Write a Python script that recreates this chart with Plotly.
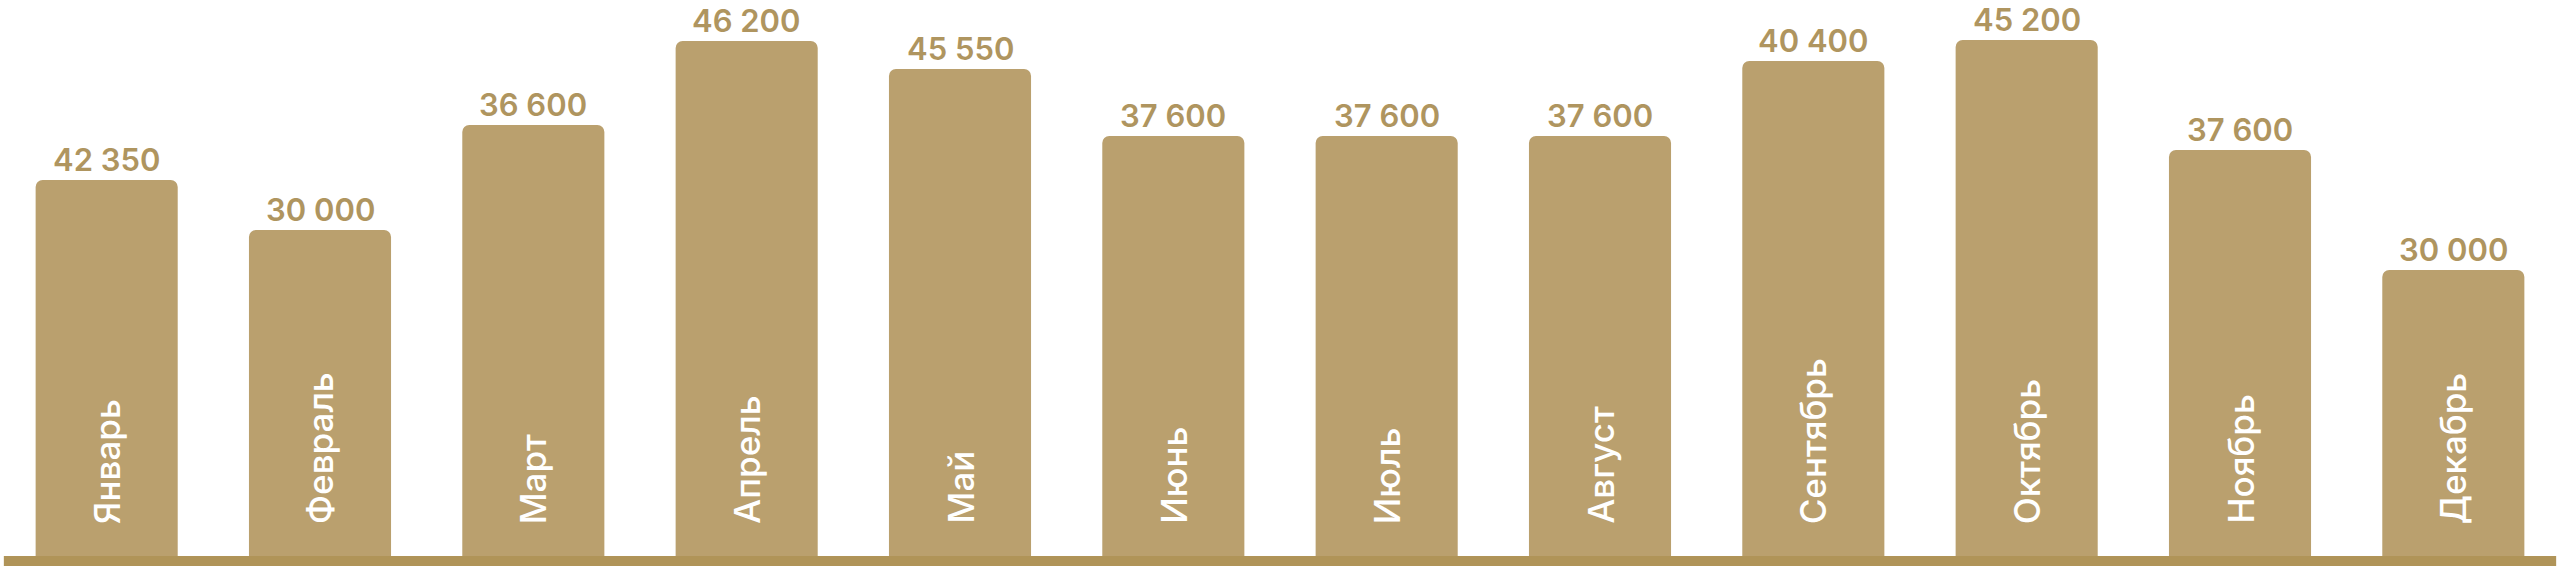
import plotly.graph_objects as go

# months, the printed totals, and the bar heights as drawn in the picture
months = ['Январь', 'Февраль', 'Март', 'Апрель', 'Май', 'Июнь',
          'Июль', 'Август', 'Сентябрь', 'Октябрь', 'Ноябрь', 'Декабрь']
values = [42350, 30000, 36600, 46200, 45550, 37600,
          37600, 37600, 40400, 45200, 37600, 30000]
bar_heights = [376, 326, 431, 515, 487, 420, 420, 420, 495, 516, 406, 286]

bar_color = '#BAA06E'
label_color = '#AF955F'
font_name = 'Inter'

def fmt(v):
    # grouping with a plain space, like "42 350"
    return '{:,}'.format(v).replace(',', ' ')

fig = go.Figure()
fig.add_trace(go.Bar(
    x=months,
    y=bar_heights,
    marker=dict(color=bar_color, cornerradius=7, line=dict(width=0)),
    hoverinfo='skip',
))

annotations = []
for m, h, v in zip(months, bar_heights, values):
    # value on top of the bar
    annotations.append(dict(
        x=m, y=h, xref='x', yref='y',
        text=fmt(v), showarrow=False,
        xanchor='center', yanchor='bottom', yshift=0,
        font=dict(family=font_name, size=31, color=label_color, weight=600),
    ))
    # month name inside the bar, reading upwards
    annotations.append(dict(
        x=m, y=0, xref='x', yref='y',
        text=m, showarrow=False, textangle=-90,
        xanchor='center', yanchor='bottom', yshift=30,
        font=dict(family=font_name, size=35, color='white', weight=500),
    ))

fig.update_layout(
    width=2560, height=566,
    margin=dict(l=0, r=0, t=0, b=10),
    paper_bgcolor='white', plot_bgcolor='white',
    bargap=0.334,
    showlegend=False,
    annotations=annotations,
    xaxis=dict(visible=False),
    yaxis=dict(visible=False, range=[0, 556]),
    shapes=[dict(type='line', xref='paper', yref='paper',
                 x0=0.0015, x1=0.9985, y0=-5 / 556, y1=-5 / 556,
                 line=dict(color='#B09458', width=10))],
)

# drop the default page margin so the chart sits flush in the window
fig.write_html('out.html',
               config={'displayModeBar': False, 'staticPlot': True},
               post_script="document.body.style.margin='0';"
                           "document.body.style.overflow='hidden';")
